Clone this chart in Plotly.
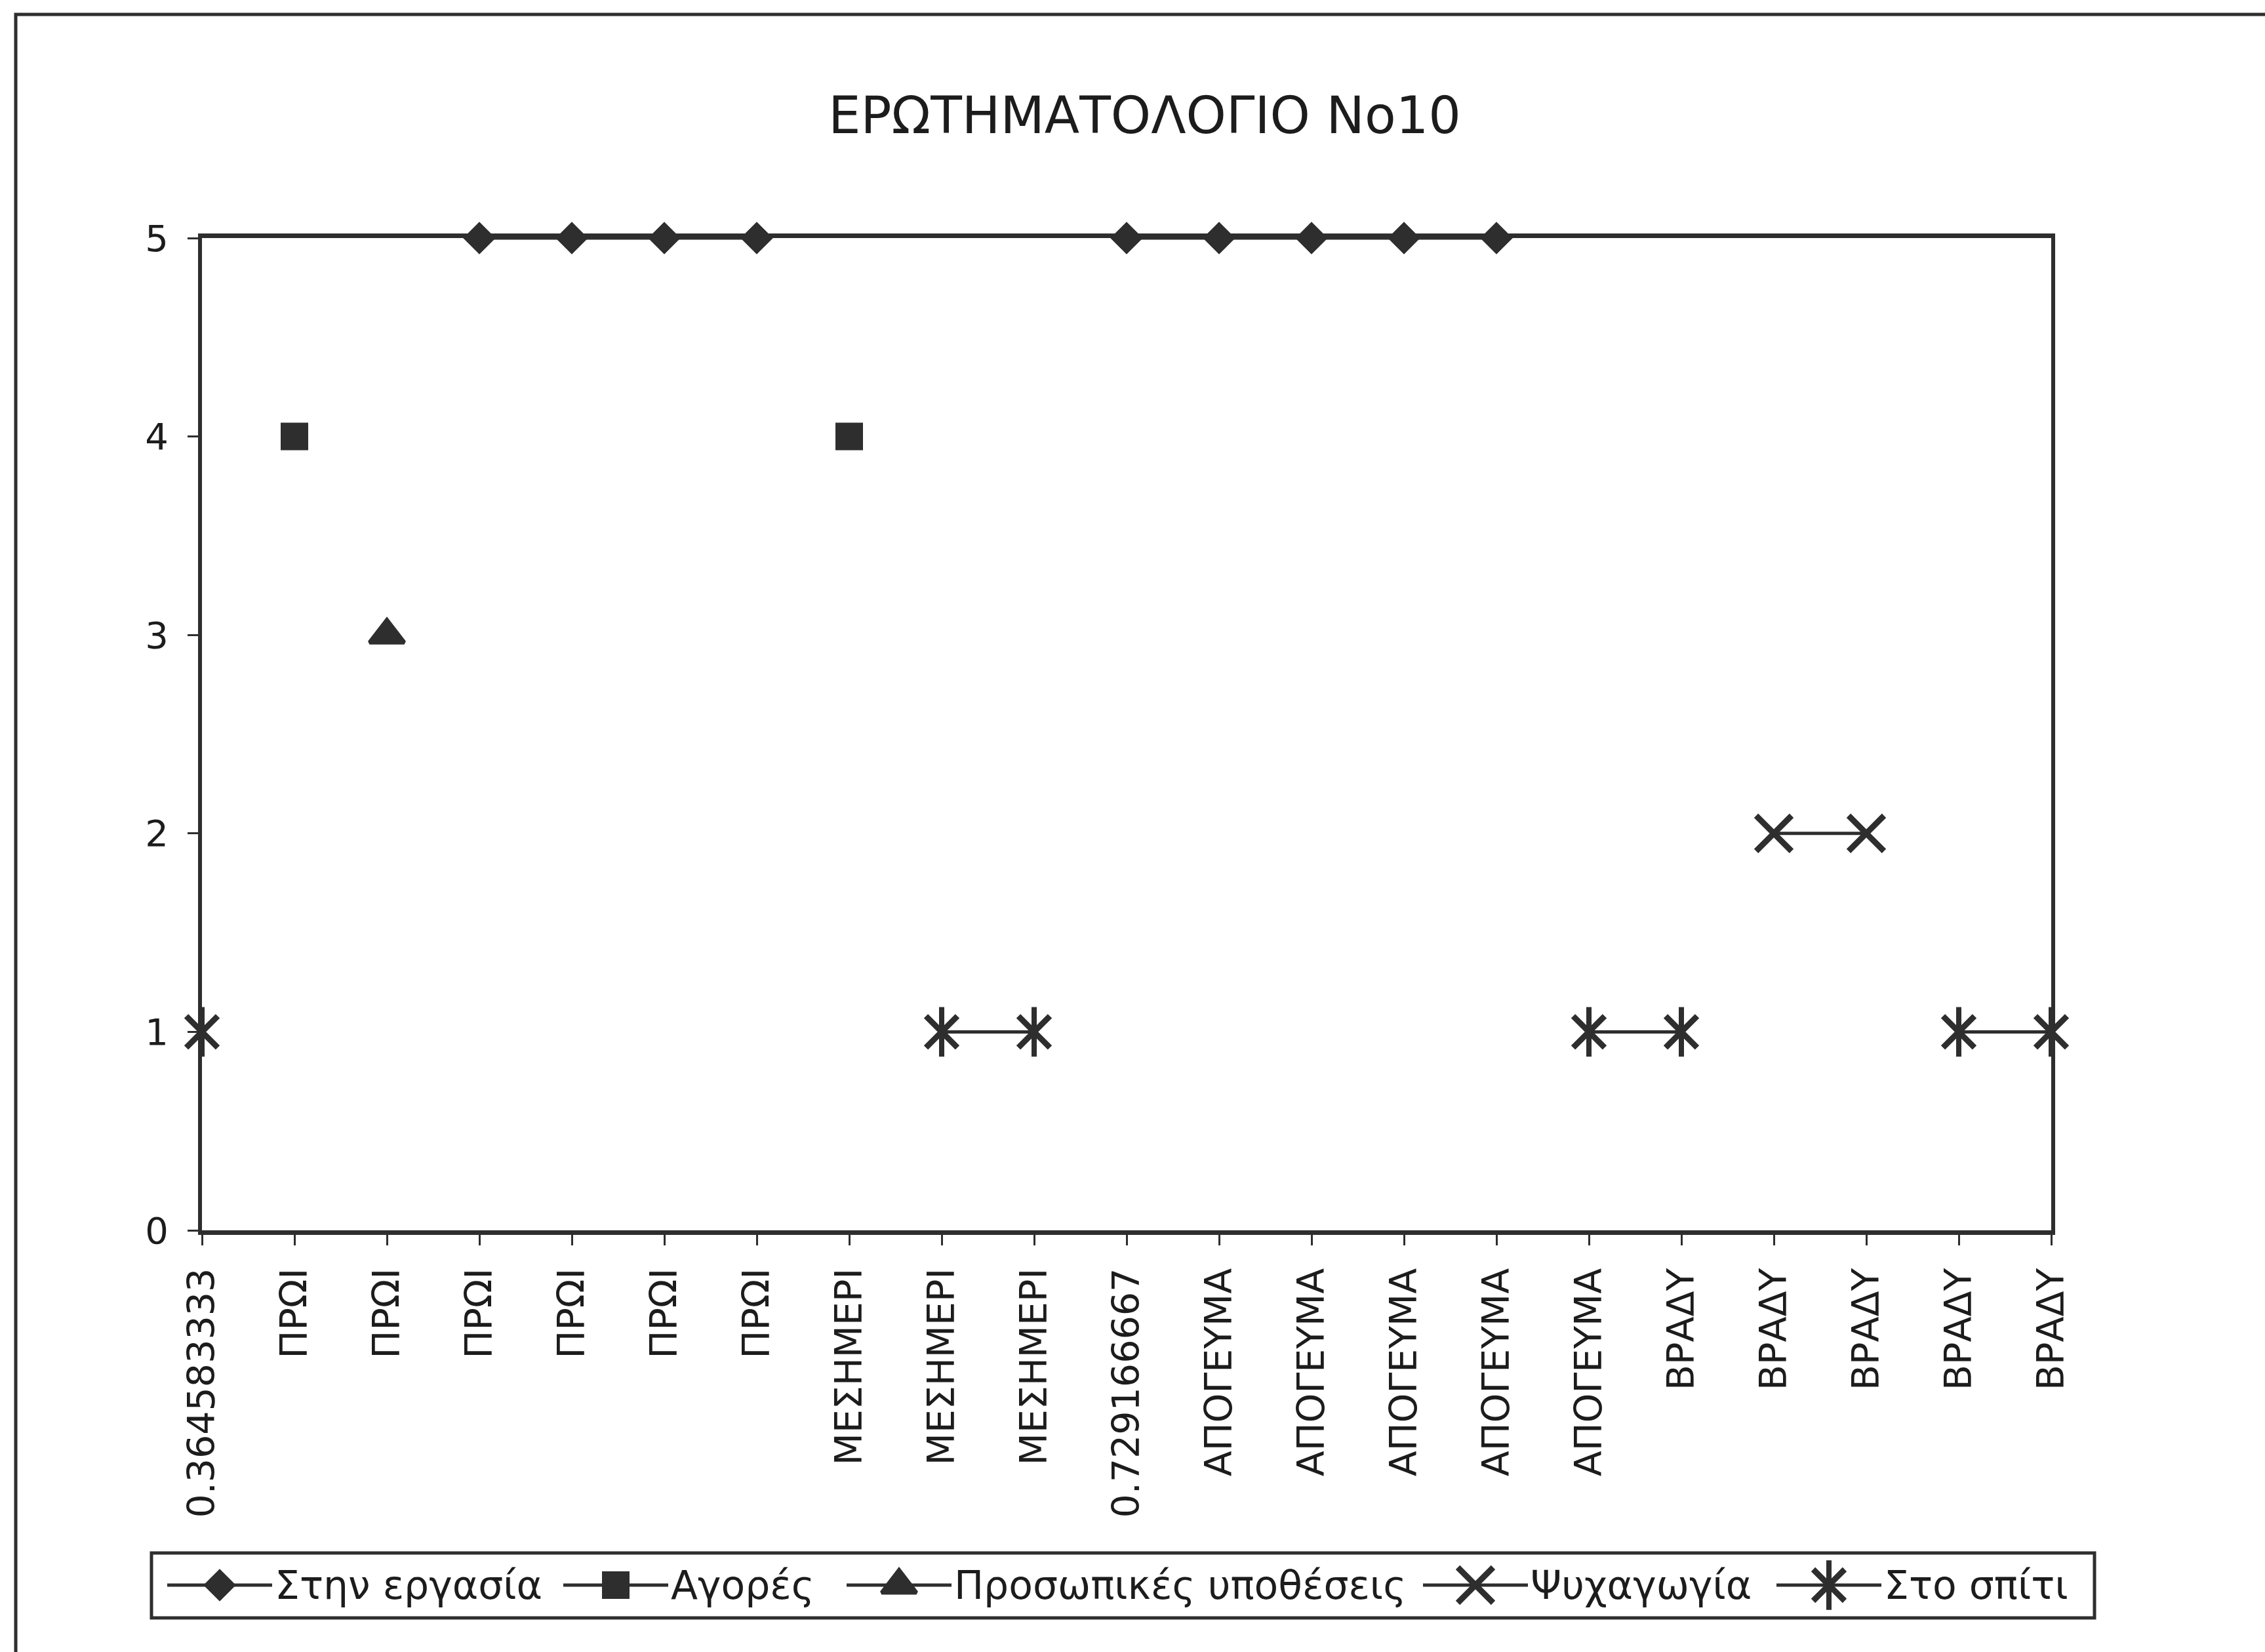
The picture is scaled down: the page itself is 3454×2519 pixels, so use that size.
import plotly.graph_objects as go

W, H = 3454, 2519

# Category labels along the x axis (time of day per answer)
categories = (["0.364583333"] + ["ΠΡΩΙ"] * 6 + ["ΜΕΣΗΜΕΡΙ"] * 3 +
              ["0.729166667"] + ["ΑΠΟΓΕΥΜΑ"] * 5 + ["ΒΡΑΔΥ"] * 5)

# Series values (None = no answer at that slot)
work = [None, None, None, 5, 5, 5, 5, None, None, None, 5, 5, 5, 5, 5,
        None, None, None, None, None, None]
shopping = [None, 4, None, None, None, None, None, 4, None, None, None,
            None, None, None, None, None, None, None, None, None, None]
personal = [None, None, 3, None, None, None, None, None, None, None, None,
            None, None, None, None, None, None, None, None, None, None]
leisure = [None, None, None, None, None, None, None, None, None, None, None,
           None, None, None, None, None, None, 2, 2, None, None]
home = [1, None, None, None, None, None, None, None, 1, 1, None,
        None, None, None, None, 1, 1, None, None, 1, 1]

series_names = ["Στην εργασία", "Αγορές", "Προσωπικές υποθέσεις", "Ψυχαγωγία", "Στο σπίτι"]
series_values = [work, shopping, personal, leisure, home]

INK = "#2e2e2e"
TXT = "#1c1c1c"
FONT = "DejaVu Sans"

# marker glyphs per series: list of (symbol, size, outline width);
# the star marker is an x with a vertical bar through it
styles = [
    [("diamond", 36, 2)],
    [("square", 40, 2)],
    [("triangle-up", 46, 6)],
    [("x-thin-open", 54, 9)],
    [("x-thin-open", 48, 9), ("line-ns-open", 54, 8)],
]

x_idx = list(range(len(categories)))

fig = go.Figure()
for name, vals, glyphs in zip(series_names, series_values, styles):
    fig.add_trace(go.Scatter(
        x=x_idx, y=vals, name=name, mode="lines",
        line=dict(color=INK, width=5),
        cliponaxis=False, showlegend=False,
    ))
    for sym, size, lw in glyphs:
        fig.add_trace(go.Scatter(
            x=x_idx, y=vals, name=name, mode="markers",
            marker=dict(symbol=sym, size=size, color=INK,
                        line=dict(color=INK, width=lw)),
            cliponaxis=False, showlegend=False,
        ))

# Plot area in pixels
L, R, T, B = 308, 3128, 363, 1876

# Hand-built legend: key line + marker + label, drawn on a full-figure pixel axis
legend_key_x = [255, 859, 1291, 2170, 2709]
key_len = 160
leg_y = 2417
for name, glyphs, kx in zip(series_names, styles, legend_key_x):
    fig.add_trace(go.Scatter(
        x=[kx, kx + key_len], y=[leg_y, leg_y], mode="lines",
        line=dict(color=INK, width=5), xaxis="x2", yaxis="y2",
        showlegend=False, hoverinfo="skip",
    ))
    for sym, size, lw in glyphs:
        fig.add_trace(go.Scatter(
            x=[kx + key_len / 2], y=[leg_y], mode="markers",
            marker=dict(symbol=sym, size=size, color=INK,
                        line=dict(color=INK, width=lw)),
            xaxis="x2", yaxis="y2", showlegend=False, hoverinfo="skip",
            cliponaxis=False,
        ))
    fig.add_annotation(
        x=kx + key_len + 2, y=leg_y, xref="x2", yref="y2", text=name,
        showarrow=False, xanchor="left", yanchor="middle",
        font=dict(family=FONT, size=60, color=TXT),
    )

fig.update_layout(
    width=W, height=H,
    margin=dict(l=0, r=0, t=0, b=0, pad=0, autoexpand=False),
    paper_bgcolor="white", plot_bgcolor="rgba(0,0,0,0)",
    title=dict(text="ΕΡΩΤΗΜΑΤΟΛΟΓΙΟ No10", x=(L + R) / 2 / W + 0.008,
               xanchor="center", y=1 - 176 / H, yanchor="middle",
               font=dict(family=FONT, size=78, color=TXT)),
    xaxis=dict(
        domain=[L / W, R / W], range=[0, 20],
        tickmode="array", tickvals=x_idx, ticktext=categories,
        tickangle=-90, ticks="outside", ticklen=16, tickwidth=3,
        tickcolor=INK, showgrid=False, zeroline=False,
        showline=True, linecolor=INK, linewidth=7, mirror=True,
        tickfont=dict(family=FONT, size=57, color=TXT),
        ticklabelstandoff=12, layer="below traces",
    ),
    yaxis=dict(
        domain=[1 - B / H, 1 - T / H], range=[0, 5], dtick=1,
        ticks="outside", ticklen=16, tickwidth=3, tickcolor=INK,
        showgrid=False, zeroline=False,
        showline=True, linecolor=INK, linewidth=6, mirror=True,
        tickfont=dict(family=FONT, size=56, color=TXT),
        ticklabelstandoff=18, layer="below traces",
    ),
    xaxis2=dict(domain=[0, 1], range=[0, W], visible=False, fixedrange=True,
                anchor="y2"),
    yaxis2=dict(domain=[0, 1], range=[H, 0], visible=False, fixedrange=True,
                anchor="x2"),
    shapes=[
        # outer chart frame
        dict(type="rect", xref="paper", yref="paper",
             x0=24 / W, x1=1.02, y0=-0.02, y1=1 - 22 / H,
             line=dict(color=INK, width=5)),
        # legend box
        dict(type="rect", xref="paper", yref="paper",
             x0=231 / W, x1=3194 / W, y0=1 - 2467 / H, y1=1 - 2368 / H,
             line=dict(color=INK, width=5)),
    ],
)

fig.write_html("out.html")
